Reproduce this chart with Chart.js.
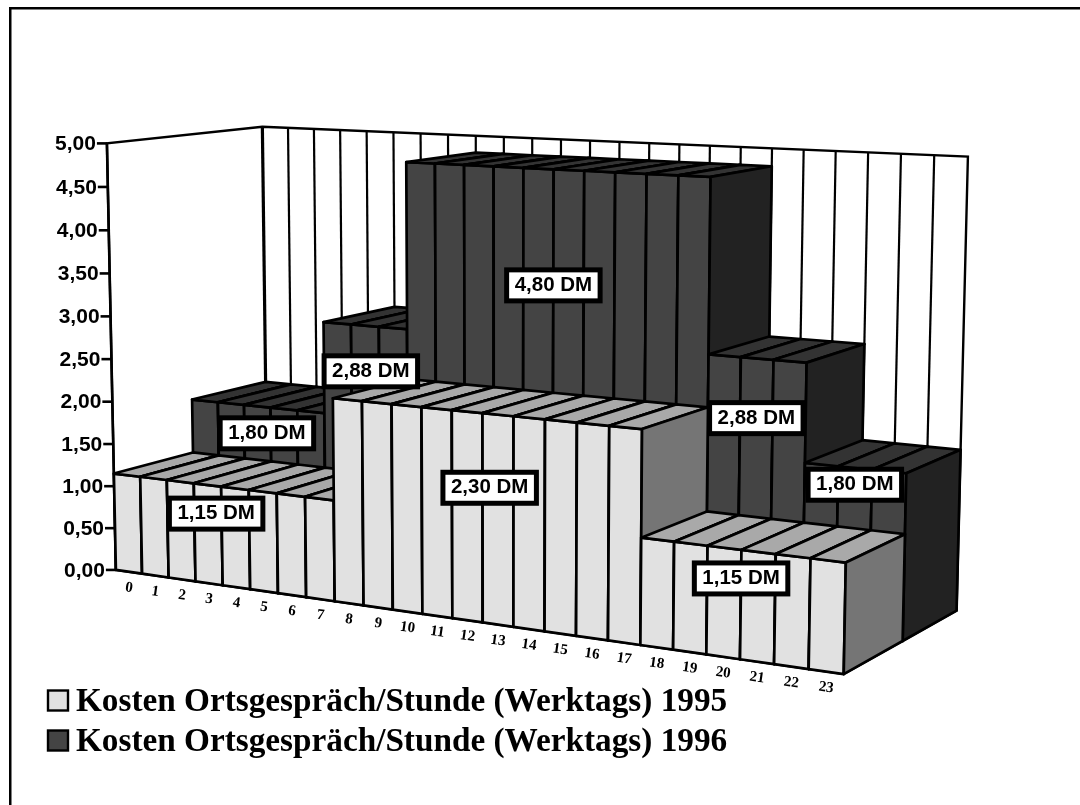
<!DOCTYPE html>
<html>
<head>
<meta charset="utf-8">
<style>
  html, body { margin: 0; padding: 0; background: #fff; }
  #wrap { position: relative; width: 1080px; height: 805px; overflow: hidden; }
</style>
<script src="https://cdn.jsdelivr.net/npm/chart.js@4"></script>
</head>
<body>
<div id="wrap"><canvas id="cost-chart" width="1080" height="805"></canvas></div>
<script>
const hours = ['0','1','2','3','4','5','6','7','8','9','10','11','12','13','14','15','16','17','18','19','20','21','22','23'];
const costs1995 = [1.15,1.15,1.15,1.15,1.15,1.15,1.15,1.15,2.30,2.30,2.30,2.30,2.30,2.30,2.30,2.30,2.30,2.30,1.15,1.15,1.15,1.15,1.15,1.15];
const costs1996 = [1.80,1.80,1.80,1.80,1.80,2.88,2.88,2.88,4.80,4.80,4.80,4.80,4.80,4.80,4.80,4.80,4.80,4.80,2.88,2.88,2.88,1.80,1.80,1.80];
const name1995 = 'Kosten Ortsgespräch/Stunde (Werktags) 1995';
const name1996 = 'Kosten Ortsgespräch/Stunde (Werktags) 1996';
const yMax = 5;
const yStep = 0.5;

// value boxes: share of the block height they sit at, and a small sideways shift in hours
const lift1995 = [0.72, 0.65, 0.74];
const lift1996 = [0.825, 0.816, 0.731, 0.775, 0.90];
const shift1995 = [-0.2, 0.23, 0];
const shift1996 = [0.35, 0.2, 0, 0, 0];

const SANS = '"Liberation Sans", Arial, sans-serif';
const SERIF = '"Liberation Serif", "Times New Roman", serif';

// camera: hour, value, depth -> where that point of the box lands on the page
const cameraPoints = [
  [0, 0, 0, 115, 570], [0, 5, 0, 107, 143], [24, 0, 0, 844, 674], [24, 1.15, 0, 846, 563],
  [0, 1.15, 0, 114, 473], [8, 2.3, 0, 333, 400], [8, 0, 0, 335, 601], [18, 2.3, 0, 642, 429],
  [18, 0, 0, 640, 644], [0, 5, 1, 263, 127], [24, 5, 1, 968, 156], [24, 0, 1, 957, 611],
  [24, 0, 0.5, 903, 640], [24, 1.15, 0.5, 904, 535], [0, 1.15, 0.5, 193, 453], [0, 1.8, 0.5, 193, 399],
  [0, 1.8, 1, 265, 382], [18, 1.15, 0.5, 707, 512], [18, 2.88, 0.5, 709, 355], [21, 2.88, 0.5, 807, 363],
  [18, 2.88, 1, 770, 336], [21, 2.88, 1, 864, 343], [18, 4.8, 0.5, 710, 177], [18, 4.8, 1, 772, 167],
  [8, 4.8, 0.5, 406, 161], [8, 4.8, 1, 475, 153], [24, 1.8, 1, 960, 450]
];

function solveLinear(a, b) {
  const n = b.length;
  for (let i = 0; i < n; i++) {
    let best = i;
    for (let r = i + 1; r < n; r++) if (Math.abs(a[r][i]) > Math.abs(a[best][i])) best = r;
    [a[i], a[best]] = [a[best], a[i]];
    [b[i], b[best]] = [b[best], b[i]];
    for (let r = i + 1; r < n; r++) {
      const f = a[r][i] / a[i][i];
      for (let c = i; c < n; c++) a[r][c] -= f * a[i][c];
      b[r] -= f * b[i];
    }
  }
  const out = new Array(n).fill(0);
  for (let i = n - 1; i >= 0; i--) {
    let s = b[i];
    for (let c = i + 1; c < n; c++) s -= a[i][c] * out[c];
    out[i] = s / a[i][i];
  }
  return out;
}

// least squares fit of a 3x4 projection, the last entry fixed to 1
function fitCamera(points) {
  const ata = Array.from({ length: 11 }, () => new Array(11).fill(0));
  const atb = new Array(11).fill(0);
  const addRow = (row, rhs) => {
    for (let i = 0; i < 11; i++) {
      atb[i] += row[i] * rhs;
      for (let j = 0; j < 11; j++) ata[i][j] += row[i] * row[j];
    }
  };
  points.forEach(([h, val, d, px, py]) => {
    const u = h / 24, v = val / yMax, x = px / 1000, y = py / 1000;
    addRow([u, v, d, 1, 0, 0, 0, 0, -x * u, -x * v, -x * d], x);
    addRow([0, 0, 0, 0, u, v, d, 1, -y * u, -y * v, -y * d], y);
  });
  return solveLinear(ata, atb);
}

const cam = fitCamera(cameraPoints);

// u and v run 0..1 along the two chart scales, d is the depth into the picture
function project(u, v, d) {
  const w = cam[8] * u + cam[9] * v + cam[10] * d + 1;
  return {
    x: 1000 * (cam[0] * u + cam[1] * v + cam[2] * d + cam[3]) / w,
    y: 1000 * (cam[4] * u + cam[5] * v + cam[6] * d + cam[7]) / w
  };
}

function poly(ctx, pts, fill) {
  ctx.beginPath();
  pts.forEach((p, i) => i ? ctx.lineTo(p.x, p.y) : ctx.moveTo(p.x, p.y));
  ctx.closePath();
  if (fill) { ctx.fillStyle = fill; ctx.fill(); }
  ctx.stroke();
}

function line(ctx, a, b, width) {
  ctx.lineWidth = width;
  ctx.beginPath();
  ctx.moveTo(a.x, a.y);
  ctx.lineTo(b.x, b.y);
  ctx.stroke();
}

function drawWalls(ctx) {
  ctx.strokeStyle = '#000';
  ctx.lineWidth = 2.4;
  poly(ctx, [project(0, 0, 0), project(0, 1, 0), project(0, 1, 1), project(1, 1, 1), project(1, 0, 1), project(1, 0, 0)], '#fff');
  for (let i = 1; i < hours.length; i++) {
    line(ctx, project(i / hours.length, 0, 1), project(i / hours.length, 1, 1), 2.2);
  }
  line(ctx, project(0, 0, 1), project(0, 1, 1), 3.2);
  line(ctx, project(0, 0, 0), project(0, 1, 0), 2.6);
}

function drawBars(chart, datasetIndex, d0, d1) {
  const { ctx, scales: { x, y } } = chart;
  const ds = chart.data.datasets[datasetIndex];
  ctx.strokeStyle = '#000';
  ctx.lineWidth = 2.7;
  ctx.lineJoin = 'round';
  chart.getDatasetMeta(datasetIndex).data.forEach(bar => {
    const u0 = (bar.x - bar.width / 2 - x.left) / x.width;
    const u1 = (bar.x + bar.width / 2 - x.left) / x.width;
    const v = (y.bottom - bar.y) / y.height;
    poly(ctx, [project(u0, 0, d0), project(u1, 0, d0), project(u1, v, d0), project(u0, v, d0)], ds.backgroundColor);
    poly(ctx, [project(u0, v, d0), project(u1, v, d0), project(u1, v, d1), project(u0, v, d1)], ds.topColor);
    poly(ctx, [project(u1, 0, d0), project(u1, 0, d1), project(u1, v, d1), project(u1, v, d0)], ds.sideColor);
  });
  ctx.lineJoin = 'miter';
}

function drawAxisText(chart) {
  const { ctx, scales: { x, y } } = chart;
  ctx.strokeStyle = '#000';
  ctx.fillStyle = '#000';
  ctx.font = 'bold 21px ' + SANS;
  ctx.textAlign = 'right';
  ctx.textBaseline = 'middle';
  y.ticks.forEach(t => {
    const p = project(0, t.value / yMax, 0);
    line(ctx, { x: p.x - 10, y: p.y }, p, 2.6);
    ctx.fillText(t.label, p.x - 11, p.y + 1);
  });
  ctx.font = 'bold 15px ' + SERIF;
  ctx.textAlign = 'center';
  hours.forEach((h, i) => {
    const p = project((x.getPixelForValue(i) - x.left) / x.width, 0, 0);
    ctx.save();
    ctx.translate(p.x, p.y + 16);
    ctx.rotate(8 * Math.PI / 180);
    ctx.fillText(h, 0, 0);
    ctx.restore();
  });
}

function drawValueBoxes(chart, values, lifts, shifts, depth) {
  const { ctx, scales: { x, y } } = chart;
  ctx.font = 'bold 20.5px ' + SANS;
  ctx.textAlign = 'center';
  ctx.textBaseline = 'middle';
  let start = 0, run = 0;
  for (let i = 1; i <= values.length; i++) {
    if (values[i] === values[start]) continue;
    const mid = x.getPixelForValue((start + i - 1) / 2 + shifts[run]);
    const v = (y.bottom - y.getPixelForValue(values[start] * lifts[run])) / y.height;
    const p = project((mid - x.left) / x.width, v, depth);
    const text = values[start].toFixed(2).replace('.', ',') + ' DM';
    const w = ctx.measureText(text).width + 16;
    ctx.fillStyle = '#fff';
    ctx.strokeStyle = '#000';
    ctx.lineWidth = 5;
    ctx.fillRect(p.x - w / 2, p.y - 15.5, w, 31);
    ctx.strokeRect(p.x - w / 2, p.y - 15.5, w, 31);
    ctx.fillStyle = '#000';
    ctx.fillText(text, p.x, p.y);
    start = i;
    run++;
  }
}

function drawLegend(chart) {
  const { ctx } = chart;
  ctx.font = 'bold 33.25px ' + SERIF;
  ctx.textAlign = 'left';
  ctx.textBaseline = 'alphabetic';
  chart.data.datasets.forEach((ds, i) => {
    const top = 690.5 + i * 40;
    ctx.fillStyle = ds.backgroundColor;
    ctx.strokeStyle = '#000';
    ctx.lineWidth = 2.4;
    ctx.fillRect(48, top, 20, 20);
    ctx.strokeRect(48, top, 20, 20);
    ctx.fillStyle = '#000';
    ctx.fillText(ds.label, 76, top + 20.5);
  });
}

const blocks3d = {
  id: 'blocks3d',
  beforeDatasetsDraw(chart) {
    const { ctx, width, height } = chart;
    ctx.save();
    ctx.fillStyle = '#fff';
    ctx.fillRect(0, 0, width, height);
    ctx.fillStyle = '#000';
    ctx.fillRect(9, 7, width - 9, 2.5);
    ctx.fillRect(9, 7, 2.5, height - 7);
    drawWalls(ctx);
    drawBars(chart, 1, 0.5, 1);
    drawBars(chart, 0, 0, 0.5);
    drawAxisText(chart);
    drawValueBoxes(chart, costs1996, lift1996, shift1996, 0.5);
    drawValueBoxes(chart, costs1995, lift1995, shift1995, 0);
    drawLegend(chart);
    ctx.restore();
    return false;
  }
};

new Chart(document.getElementById('cost-chart'), {
  type: 'bar',
  data: {
    labels: hours,
    datasets: [
      { label: name1995, data: costs1995, backgroundColor: '#e1e1e1', topColor: '#a9a9a9', sideColor: '#757575' },
      { label: name1996, data: costs1996, backgroundColor: '#444444', topColor: '#333333', sideColor: '#222222' }
    ]
  },
  options: {
    responsive: false,
    animation: false,
    layout: { padding: 100 },
    datasets: { bar: { grouped: false, barPercentage: 1, categoryPercentage: 1 } },
    plugins: { legend: { display: false }, tooltip: { enabled: false } },
    scales: {
      x: { display: false, ticks: { autoSkip: false } },
      y: {
        display: false,
        min: 0,
        max: yMax,
        ticks: {
          stepSize: yStep,
          callback: v => v.toFixed(2).replace('.', ',')
        }
      }
    }
  },
  plugins: [blocks3d]
});
</script>
</body>
</html>
